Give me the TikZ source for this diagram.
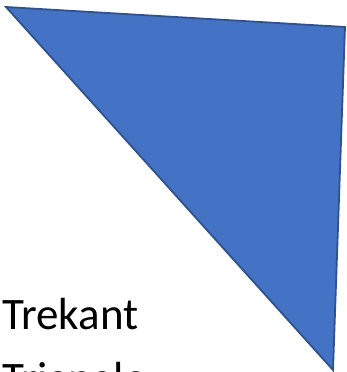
\documentclass[tikz,border=0pt]{standalone}
\usepackage{fontspec}
\setmainfont{Carlito}
\usetikzlibrary{positioning}

\definecolor{shapefill}{HTML}{4472C4}
\definecolor{shapeline}{HTML}{2F528F}

\begin{document}
\begin{tikzpicture}[x=1pt, y=-1pt,
  label text/.style={font=\fontsize{45}{54}\selectfont, inner sep=0pt, anchor=base west}]
  \clip (0,0) rectangle (347,372);

  % Triangle corners
  \coordinate (tl) at (6,7);
  \coordinate (tr) at (345,27);
  \coordinate (bt) at (333,370);
  \draw[shapeline, line width=1.8pt, fill=shapefill, line join=miter] (tl) -- (tr) -- (bt) -- cycle;

  % Labels
  \node[label text] (trekant) at (2,329) {Trekant};
  \node[label text] (triangle) at (2,393) {Triangle};
\end{tikzpicture}
\end{document}
